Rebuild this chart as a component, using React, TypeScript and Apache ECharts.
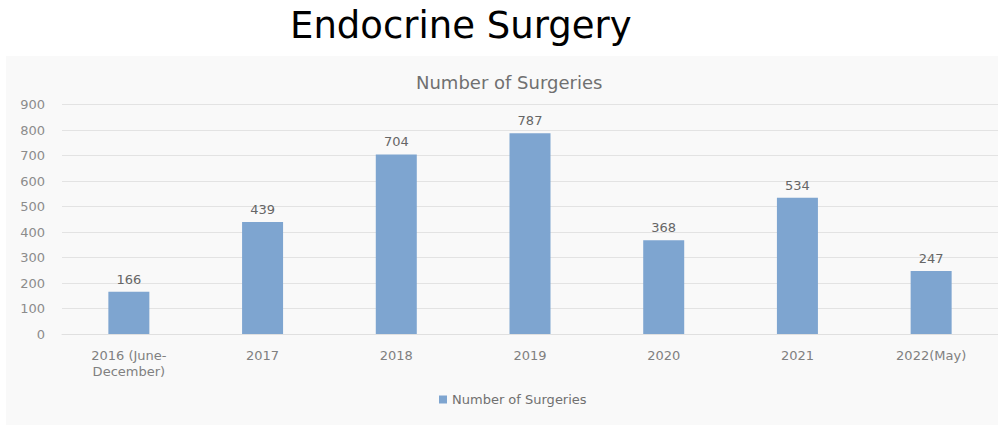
import React, { useEffect, useRef } from "react";
import * as echarts from "echarts";

const categories = [
  "2016 (June-\nDecember)",
  "2017",
  "2018",
  "2019",
  "2020",
  "2021",
  "2022(May)",
];
const surgeries = [166, 439, 704, 787, 368, 534, 247];
const seriesName = "Number of Surgeries";
const mainTitle = "Endocrine Surgery";
const chartTitle = "Number of Surgeries";

export default function App() {
  const ref = useRef<HTMLDivElement>(null);
  useEffect(() => {
    if (!ref.current) return;
    const chart = echarts.init(ref.current, undefined, { renderer: "svg" });
    chart.setOption({
      animation: false,
      backgroundColor: "#ffffff",
      graphic: [
        {
          type: "rect",
          z: -10,
          shape: { x: 6, y: 56, width: 992, height: 369 },
          style: { fill: "#f9f9f9" },
          silent: true,
        },
      ],
      title: [
        {
          text: mainTitle,
          left: 285,
          top: 2,
          textStyle: {
            fontFamily: "DejaVu Sans",
            fontSize: 37,
            fontWeight: "normal",
            color: "#000000",
          },
        },
        {
          text: chartTitle,
          left: 411,
          top: 68,
          textStyle: {
            fontFamily: "DejaVu Sans",
            fontSize: 18,
            fontWeight: "normal",
            color: "#707070",
          },
        },
      ],
      legend: {
        bottom: 14,
        left: 434,
        itemWidth: 8,
        itemHeight: 8,
        itemGap: 6,
        icon: "rect",
        data: [seriesName],
        textStyle: {
          fontFamily: "DejaVu Sans",
          fontSize: 13,
          color: "#707070",
        },
      },
      grid: {
        left: 62,
        right: 0,
        top: 104.5,
        bottom: 91,
        containLabel: false,
      },
      xAxis: {
        type: "category",
        data: categories,
        axisLine: { show: true, lineStyle: { color: "#e0e0e0" } },
        axisTick: { show: false },
        axisLabel: {
          fontFamily: "DejaVu Sans",
          fontSize: 13,
          color: "#808080",
          margin: 13,
          lineHeight: 16,
        },
      },
      yAxis: {
        type: "value",
        min: 0,
        max: 900,
        interval: 100,
        axisLine: { show: false },
        axisTick: { show: false },
        splitLine: { lineStyle: { color: "#e3e3e3" } },
        axisLabel: {
          fontFamily: "DejaVu Sans",
          fontSize: 13,
          color: "#8c8c8c",
          margin: 17,
        },
      },
      series: [
        {
          name: seriesName,
          type: "bar",
          data: surgeries,
          barWidth: 41,
          itemStyle: { color: "#7ea5d0" },
          label: {
            show: true,
            position: "top",
            distance: 6,
            fontFamily: "DejaVu Sans",
            fontSize: 13,
            color: "#666666",
          },
        },
      ],
    });
    return () => chart.dispose();
  }, []);
  return (
    <div
      ref={ref}
      style={{ position: "fixed", left: 0, top: 0, width: 998, height: 425 }}
    />
  );
}
